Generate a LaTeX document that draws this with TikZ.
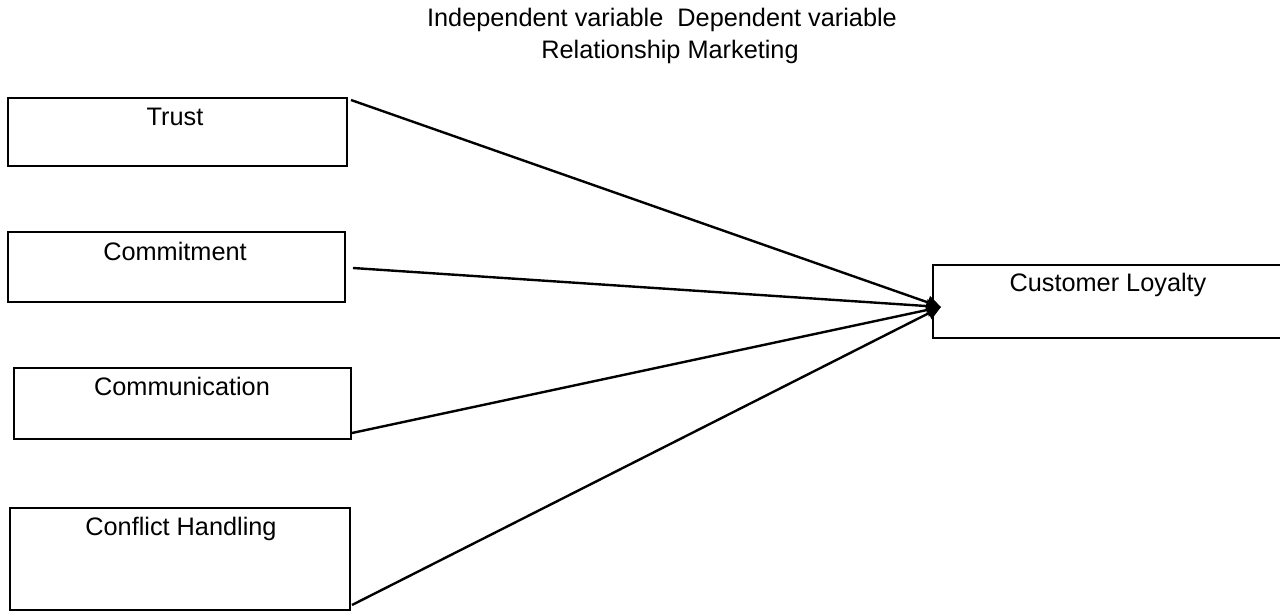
\documentclass[tikz,border=0pt]{standalone}
\usepackage{fontspec}
\setmainfont{Liberation Sans}
\usetikzlibrary{arrows.meta}
\begin{document}
\begin{tikzpicture}[x=1pt,y=-1pt,
  box/.style={draw,line width=2pt,inner sep=0pt,outer sep=0pt},
  lbl/.style={anchor=base,inner sep=0pt,font=\fontsize{25.3}{29}\selectfont},
  conn/.style={line width=2.4pt,-{Triangle[length=14pt,width=13pt]}}]
\useasboundingbox (0,0) rectangle (1280,613);
\node[lbl] (h1) at (662,27) {Independent variable\ \ Dependent variable};
\node[lbl] (h2) at (670,58) {Relationship Marketing};
\node[box,minimum width=339pt,minimum height=68pt] (trust) at (177.5,132) {};
\node[box,minimum width=337pt,minimum height=70pt] (commit) at (176.5,267) {};
\node[box,minimum width=337pt,minimum height=71pt] (comm) at (182.5,403.5) {};
\node[box,minimum width=340pt,minimum height=102pt] (conf) at (180,559) {};
\node[box,minimum width=350pt,minimum height=73pt] (loyal) at (1108,301.5) {};
\node[lbl] (tTrust) at (175,125) {Trust};
\node[lbl] (tCommit) at (175,260) {Commitment};
\node[lbl] (tComm) at (182,395) {Communication};
\node[lbl] (tConf) at (181,535) {Conflict Handling};
\node[lbl] (tLoyal) at (1108,291) {Customer Loyalty};
\coordinate (tip) at (941,307);
\draw[conn] ([xshift=4pt,yshift=-2pt]trust.north east) -- (tip);
\draw[conn] ([xshift=8pt,yshift=-1pt]commit.east) -- (tip);
\draw[conn] ([xshift=1pt,yshift=6pt]comm.south east) -- (tip);
\draw[conn] ([xshift=2pt,yshift=5pt]conf.south east) -- (tip);
\end{tikzpicture}
\end{document}
